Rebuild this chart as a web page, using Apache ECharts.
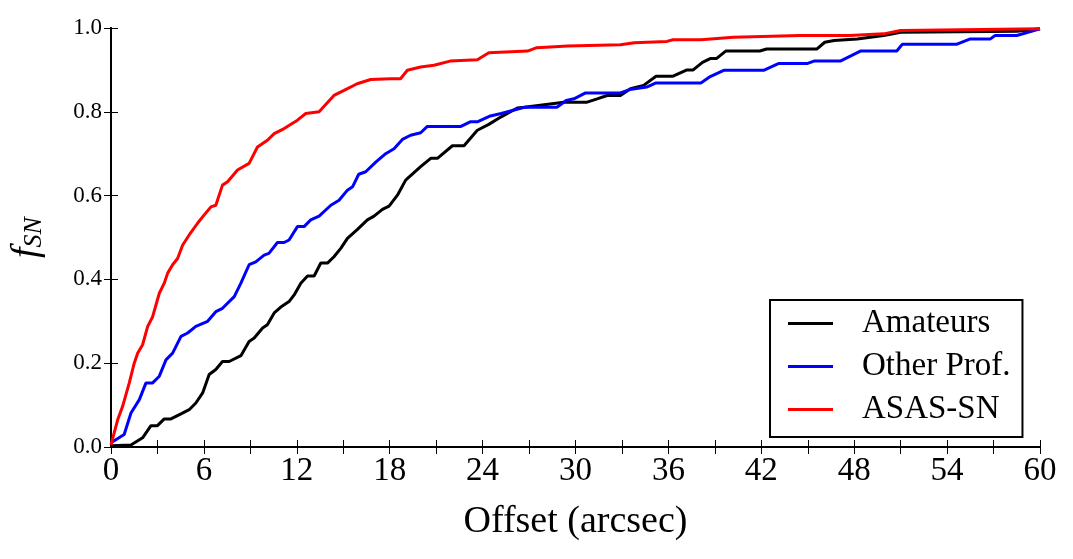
<!DOCTYPE html>
<html>
<head>
<meta charset="utf-8">
<script src="https://cdn.jsdelivr.net/npm/echarts@6/dist/echarts.min.js"></script>
<style>html,body{margin:0;padding:0;background:#fff}#c{width:1073px;height:559px}</style>
</head>
<body>
<div id="c"></div>
<script>
var xTicks = [0, 6, 12, 18, 24, 30, 36, 42, 48, 54, 60];
var xMinorStep = 3;
var yTicks = [0.0, 0.2, 0.4, 0.6, 0.8, 1.0];
var seriesNames = ['Amateurs', 'Other Prof.', 'ASAS-SN'];

var amateursX = [0,1.29,2.04,2.58,3.0,3.44,3.87,4.52,5.05,5.48,5.92,6.34,6.77,7.2,7.63,8.39,8.92,9.25,9.79,10.1,10.54,10.97,11.5,11.83,12.26,12.69,13.12,13.55,13.98,14.4,14.84,15.27,15.9,16.56,16.99,17.53,17.96,18.5,19.03,19.46,20,20.65,21.08,22.05,22.8,23.66,24.4,25.2,25.6,26.24,26.7,29.25,30.75,31.4,32.04,32.9,33.55,34.4,35.2,36.3,37.2,37.6,38.2,38.7,39.1,39.7,41.9,42.35,45.6,46.1,46.7,48.2,49.9,51,58.5,60];
var amateursY = [0.003,0.005,0.022,0.051,0.051,0.067,0.067,0.079,0.089,0.105,0.129,0.173,0.185,0.204,0.204,0.218,0.252,0.26,0.284,0.292,0.32,0.334,0.347,0.363,0.391,0.408,0.408,0.439,0.439,0.454,0.474,0.498,0.519,0.542,0.551,0.567,0.575,0.601,0.637,0.651,0.669,0.689,0.689,0.719,0.719,0.756,0.77,0.788,0.796,0.809,0.811,0.823,0.823,0.831,0.839,0.839,0.855,0.863,0.885,0.885,0.9,0.9,0.918,0.927,0.927,0.945,0.945,0.95,0.95,0.966,0.97,0.974,0.982,0.99,0.992,0.998];

var otherX = [0,0.85,1.29,1.83,2.26,2.69,3.12,3.55,3.98,4.52,4.95,5.48,6.24,6.77,7.2,7.96,8.39,8.92,9.35,9.89,10.2,10.75,11.18,11.5,12.04,12.47,12.9,13.44,14.2,14.73,15.27,15.6,16.0,16.45,17.1,17.74,18.28,18.82,19.35,20,20.43,22.6,23.2,23.66,24.5,25.2,25.8,26.7,28.8,29.4,29.9,30.65,32.9,33.5,34.6,35.2,38.1,38.7,39.57,42.15,43.1,44.95,45.4,47.1,48.4,50.75,51.1,54.6,55.5,56.8,57.1,58.5,60];
var otherY = [0.01,0.03,0.081,0.113,0.153,0.153,0.169,0.208,0.224,0.264,0.272,0.288,0.3,0.323,0.331,0.359,0.391,0.435,0.442,0.458,0.462,0.488,0.488,0.494,0.526,0.526,0.542,0.551,0.577,0.589,0.613,0.621,0.651,0.657,0.68,0.7,0.712,0.734,0.744,0.75,0.765,0.765,0.776,0.776,0.79,0.796,0.802,0.811,0.811,0.827,0.831,0.845,0.845,0.853,0.859,0.869,0.869,0.884,0.899,0.899,0.915,0.915,0.921,0.921,0.945,0.945,0.961,0.961,0.974,0.974,0.982,0.982,0.998];

var asasX = [0,0.43,0.75,1.18,1.5,1.72,2.04,2.37,2.69,3.12,3.44,3.66,3.98,4.3,4.63,5.05,5.59,6.02,6.45,6.77,7.2,7.53,8.17,8.92,9.46,10.1,10.54,11.18,12.04,12.58,13.44,14.4,15.05,15.9,16.77,18.06,18.7,19.14,20,20.86,21.9,23.66,24.4,26.9,27.5,29.5,32.9,33.8,35.9,36.3,38.1,40.2,44.5,47.7,49.9,51,60];
var asasY = [0.005,0.065,0.097,0.153,0.2,0.224,0.244,0.288,0.311,0.367,0.391,0.415,0.435,0.45,0.482,0.506,0.534,0.554,0.573,0.577,0.625,0.633,0.661,0.677,0.716,0.732,0.748,0.76,0.78,0.796,0.8,0.839,0.851,0.867,0.877,0.879,0.879,0.899,0.907,0.911,0.921,0.924,0.941,0.945,0.953,0.957,0.96,0.965,0.968,0.972,0.972,0.978,0.982,0.982,0.986,0.994,0.998];

function zip(xs, ys) { return xs.map(function (x, i) { return [x, ys[i]]; }); }

var FONT = '"Liberation Serif", "DejaVu Serif", serif';
var chart = echarts.init(document.getElementById('c'), null, {renderer: 'canvas'});

var tickStyle = {show: true, inside: true, length: 7, lineStyle: {color: '#000', width: 1}};
var axisLineStyle = {show: true, lineStyle: {color: '#000', width: 2}};
var xMin = xTicks[0], xMax = xTicks[xTicks.length - 1];
function xLabel(v) {
  return xTicks.indexOf(Math.round(v)) >= 0 && Math.abs(v - Math.round(v)) < 1e-6 ? String(Math.round(v)) : '';
}

chart.setOption({
  backgroundColor: '#fff',
  animation: false,
  grid: {left: 110, right: 33, top: 28, bottom: 112, show: false},
  legend: {
    orient: 'vertical',
    left: 770, top: 300,
    data: seriesNames,
    icon: 'rect',
    itemWidth: 45, itemHeight: 3,
    itemGap: 10,
    padding: [7, 12, 11, 18],
    borderColor: '#000', borderWidth: 2,
    backgroundColor: '#fff',
    textStyle: {fontFamily: FONT, fontSize: 33, color: '#000', lineHeight: 32, padding: [0, 0, 0, 24]}
  },
  xAxis: [{
    type: 'value', min: xMin, max: xMax, interval: xMinorStep,
    position: 'bottom',
    axisLine: axisLineStyle,
    axisTick: tickStyle,
    splitLine: {show: false},
    axisLabel: {fontFamily: FONT, fontSize: 33, color: '#000', margin: 8, formatter: xLabel},
    name: 'Offset (arcsec)', nameLocation: 'middle', nameGap: 56,
    nameTextStyle: {fontFamily: FONT, fontSize: 38, color: '#000'}
  }, {
    type: 'value', min: xMin, max: xMax, interval: xMinorStep,
    position: 'top',
    axisLine: axisLineStyle,
    axisTick: tickStyle,
    splitLine: {show: false},
    axisLabel: {show: false}
  }],
  yAxis: [{
    type: 'value', min: yTicks[0], max: yTicks[yTicks.length - 1], interval: yTicks[1] - yTicks[0],
    position: 'left',
    axisLine: axisLineStyle,
    axisTick: tickStyle,
    splitLine: {show: false},
    axisLabel: {fontFamily: FONT, fontSize: 23, color: '#000', margin: 9,
      formatter: function (v) { return v.toFixed(1); }},
    name: '{f|f}{s|SN}', nameLocation: 'middle', nameGap: 64, nameRotate: 90,
    nameTextStyle: {
      color: '#000',
      rich: {
        f: {fontFamily: FONT, fontStyle: 'italic', fontSize: 38, color: '#000'},
        s: {fontFamily: FONT, fontStyle: 'italic', fontSize: 26, color: '#000', padding: [14, 0, 0, 0]}
      }
    }
  }, {
    type: 'value', min: yTicks[0], max: yTicks[yTicks.length - 1], interval: yTicks[1] - yTicks[0],
    position: 'right',
    axisLine: axisLineStyle,
    axisTick: tickStyle,
    splitLine: {show: false},
    axisLabel: {show: false}
  }],
  series: [
    {name: seriesNames[0], type: 'line', data: zip(amateursX, amateursY), symbol: 'none', color: '#000000', lineStyle: {width: 3, color: '#000000'}},
    {name: seriesNames[1], type: 'line', data: zip(otherX, otherY), symbol: 'none', color: '#0000ff', lineStyle: {width: 3, color: '#0000ff'}},
    {name: seriesNames[2], type: 'line', data: zip(asasX, asasY), symbol: 'none', color: '#ff0000', lineStyle: {width: 3, color: '#ff0000'}}
  ]
});
</script>
</body>
</html>
